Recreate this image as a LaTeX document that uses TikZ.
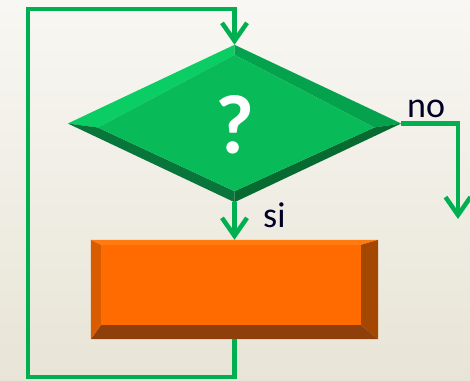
\documentclass[tikz,border=0pt]{standalone}
\usepackage{fontspec}
\setmainfont{Carlito}
\usetikzlibrary{arrows.meta,calc,shapes.geometric}
\definecolor{flowgreen}{HTML}{00B050}
\definecolor{bgtop}{HTML}{F8F7F3}
\definecolor{bgbot}{HTML}{E8E4D6}
\definecolor{dface}{HTML}{08BA58}
\definecolor{dtl}{HTML}{0ACD63}
\definecolor{dtr}{HTML}{05A24D}
\definecolor{dbl}{HTML}{08753A}
\definecolor{dbr}{HTML}{066A31}
\definecolor{rface}{HTML}{FF6B00}
\definecolor{rtop}{HTML}{FF7B12}
\definecolor{rleft}{HTML}{DA5C00}
\definecolor{rright}{HTML}{A44700}
\definecolor{rbot}{HTML}{8E3F0B}
\begin{document}
\begin{tikzpicture}[x=1pt,y=-1pt,
  flow/.style={draw=flowgreen,line width=4.5pt,line join=miter},
  barb/.style={-{Straight Barb[length=18pt,width=25pt,line width=4.5pt]}},
  lbl/.style={font=\fontsize{36}{36}\selectfont,text=black!85!blue,inner sep=0pt,anchor=base west}]
  % backdrop
  \shade[top color=bgtop,bottom color=bgbot] (0,0) rectangle (470,380);
  \useasboundingbox (0,0) rectangle (470,380);

  % decision diamond
  \node[diamond,minimum width=333pt,minimum height=157pt,inner sep=0pt] (dec) at (234.5,123.5) {};
  \coordinate (it) at ($(dec.north)+(0,10)$);
  \coordinate (ir) at ($(dec.east)+(-27,4)$);
  \coordinate (ib) at ($(dec.south)+(0,-11)$);
  \coordinate (il) at ($(dec.west)+(30,4)$);
  \fill[dtl] (dec.west) -- (dec.north) -- (it) -- (il) -- cycle;
  \fill[dtr] (dec.north) -- (dec.east) -- (ir) -- (it) -- cycle;
  \fill[dbr] (dec.east) -- (dec.south) -- (ib) -- (ir) -- cycle;
  \fill[dbl] (dec.south) -- (dec.west) -- (il) -- (ib) -- cycle;
  \fill[dface] (it) -- (ir) -- (ib) -- (il) -- cycle;
  \node[text=white,font=\fontsize{84}{84}\selectfont\bfseries,inner sep=0pt] (q) at ($(dec.center)+(0,1)$) {?};

  % process block
  \node[rectangle,minimum width=287pt,minimum height=99pt,inner sep=0pt] (act) at (234.5,289.5) {};
  \coordinate (a1) at ($(act.north west)+(10,5)$);
  \coordinate (a2) at ($(act.north east)+(-17,5)$);
  \coordinate (a3) at ($(act.south east)+(-17,-14)$);
  \coordinate (a4) at ($(act.south west)+(10,-14)$);
  \fill[rtop] (act.north west) -- (act.north east) -- (a2) -- (a1) -- cycle;
  \fill[rright] (act.north east) -- (act.south east) -- (a3) -- (a2) -- cycle;
  \fill[rbot] (act.south east) -- (act.south west) -- (a4) -- (a3) -- cycle;
  \fill[rleft] (act.south west) -- (act.north west) -- (a1) -- (a4) -- cycle;
  \fill[rface] (a1) -- (a2) -- (a3) -- (a4) -- cycle;

  % connectors
  \coordinate (lb) at (28,377);
  \coordinate (lt) at (28,9);
  \coordinate (out) at (458,219);
  \draw[flow,barb] (dec.south) -- (act.north);
  \draw[flow,barb] (act.south) |- (lb) -- (lt) -| (dec.north);
  \draw[flow,barb] (dec.east) -| (out);

  % branch labels
  \node[lbl] (no) at (407,117) {no};
  \node[lbl] (si) at (263,227) {si};
\end{tikzpicture}
\end{document}
